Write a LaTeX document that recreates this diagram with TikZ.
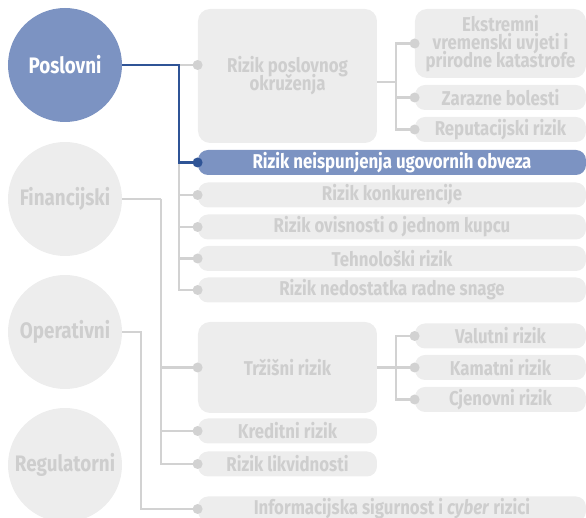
\documentclass[tikz,border=0pt]{standalone}
\usepackage{fontspec}
\setmainfont{Fira Sans}[FakeStretch=0.84]
\usepackage{tikz}
\usetikzlibrary{positioning}

\definecolor{boxgray}{HTML}{EDEDED}
\definecolor{txtgray}{HTML}{CECECE}
\definecolor{linegray}{HTML}{D2D2D2}
\definecolor{mainblue}{HTML}{7C93C2}
\definecolor{darkblue}{HTML}{2F5496}
\newcommand{\tightlines}{\lineskiplimit=-10pt\relax}

\begin{document}
\begin{tikzpicture}[
        x=0.5pt, y=-0.5pt,
        font=\bfseries\fontsize{10}{9}\selectfont,
        % Style for the four category circles
        catnode/.style={circle, minimum size=57pt, inner sep=0pt, fill=boxgray, text=txtgray, font=\bfseries\fontsize{11.2}{11}\selectfont},
        % Style for the large blocks
        bignode/.style={rectangle, rounded corners=6pt, inner sep=0pt, align=center, minimum width=89.5pt, fill=boxgray, text=txtgray, font=\bfseries\fontsize{10}{9}\selectfont\tightlines},
        % Style for the single-line bars
        barnode/.style={rectangle, rounded corners=5pt, inner sep=0pt, minimum height=12.5pt, fill=boxgray, text=txtgray},
        widebar/.style={barnode, minimum width=194pt},
        subbar/.style={barnode, minimum width=85.5pt},
        midbar/.style={barnode, minimum width=89.5pt},
        link/.style={draw=linegray, line width=1.25pt},
        activelink/.style={draw=darkblue, line width=1.15pt}
    ]

    \useasboundingbox (0,0) rectangle (586,518);

    % --- 1. CATEGORY CIRCLES ---
    \node[catnode, fill=mainblue, text=white] (pos) at (65,65) {Poslovni};
    \node[catnode] (fin) at (65,199) {Financijski};
    \node[catnode] (ope) at (65,332) {Operativni};
    \node[catnode] (reg) at (65,465) {Regulatorni};

    % --- 2. RISK BLOCKS ---
    \node[bignode, minimum height=67pt] (okr) at (287.5,76) {Rizik poslovnog\\okruženja};
    \node[bignode, minimum width=85.5pt, minimum height=34.5pt] (ekst) at (500.5,43.5) {Ekstremni\\vremenski uvjeti i\\prirodne katastrofe};
    \node[subbar] (zar) at (500.5,97.5) {Zarazne bolesti};
    \node[subbar] (rep) at (500.5,129.5) {Reputacijski rizik};

    \node[widebar, fill=mainblue, text=white] (neis) at (392,162.5) {Rizik neispunjenja ugovornih obveza};
    \node[widebar] (konk) at (392,195) {Rizik konkurencije};
    \node[widebar] (ovis) at (392,227) {Rizik ovisnosti o jednom kupcu};
    \node[widebar] (teh) at (392,258.5) {Tehnološki rizik};
    \node[widebar] (ned) at (392,290) {Rizik nedostatka radne snage};

    \node[bignode, minimum height=45.5pt] (trz) at (287.5,367.5) {Tržišni rizik};
    \node[subbar] (val) at (500.5,336) {Valutni rizik};
    \node[subbar] (kam) at (500.5,367.5) {Kamatni rizik};
    \node[subbar] (cje) at (500.5,399.5) {Cjenovni rizik};
    \node[midbar] (kred) at (287.5,431) {Kreditni rizik};
    \node[midbar] (likv) at (287.5,464) {Rizik likvidnosti};

    \node[widebar] (info) at (392,509) {Informacijska sigurnost i \textit{cyber} rizici};

    % vertical rails
    \coordinate (busP) at (179,0);
    \coordinate (busF) at (161,0);
    \coordinate (busO) at (141,0);
    \coordinate (jOkr) at (396,82);
    \coordinate (jTrz) at (396,0);

    % --- 3. CONNECTIONS ---
    \draw[link] (pos.east -| busP) -- (okr.west |- pos.east);
    \foreach \n in {konk,ovis,teh,ned}
        \draw[link] (busP |- neis.west) |- (\n.west);

    \draw[link] (okr.east |- jOkr) -- (jOkr);
    \foreach \n in {ekst,zar,rep}
        \draw[link] (jOkr) |- (\n.west);

    \draw[link] (fin.east) -- (fin.east -| busF);
    \foreach \n in {trz,kred,likv}
        \draw[link] (fin.east -| busF) |- (\n.west);

    \draw[link] (trz.east) -- (trz.east -| jTrz);
    \foreach \n in {val,kam,cje}
        \draw[link] (trz.east -| jTrz) |- (\n.west);

    \draw[link] (ope.east) -| (busO |- info.west) -- (info.west);

    % highlighted path
    \draw[activelink] (pos.east) -- (pos.east -| busP) |- (neis.west);

    % end dots
    \fill[linegray] (okr.west |- pos.east) circle (2.5pt);
    \foreach \n in {ekst,zar,rep,konk,ovis,teh,ned,trz,val,kam,cje,kred,likv,info}
        \fill[linegray] (\n.west) circle (2.5pt);
    \fill[darkblue] (neis.west) circle (2.5pt);

\end{tikzpicture}
\end{document}
